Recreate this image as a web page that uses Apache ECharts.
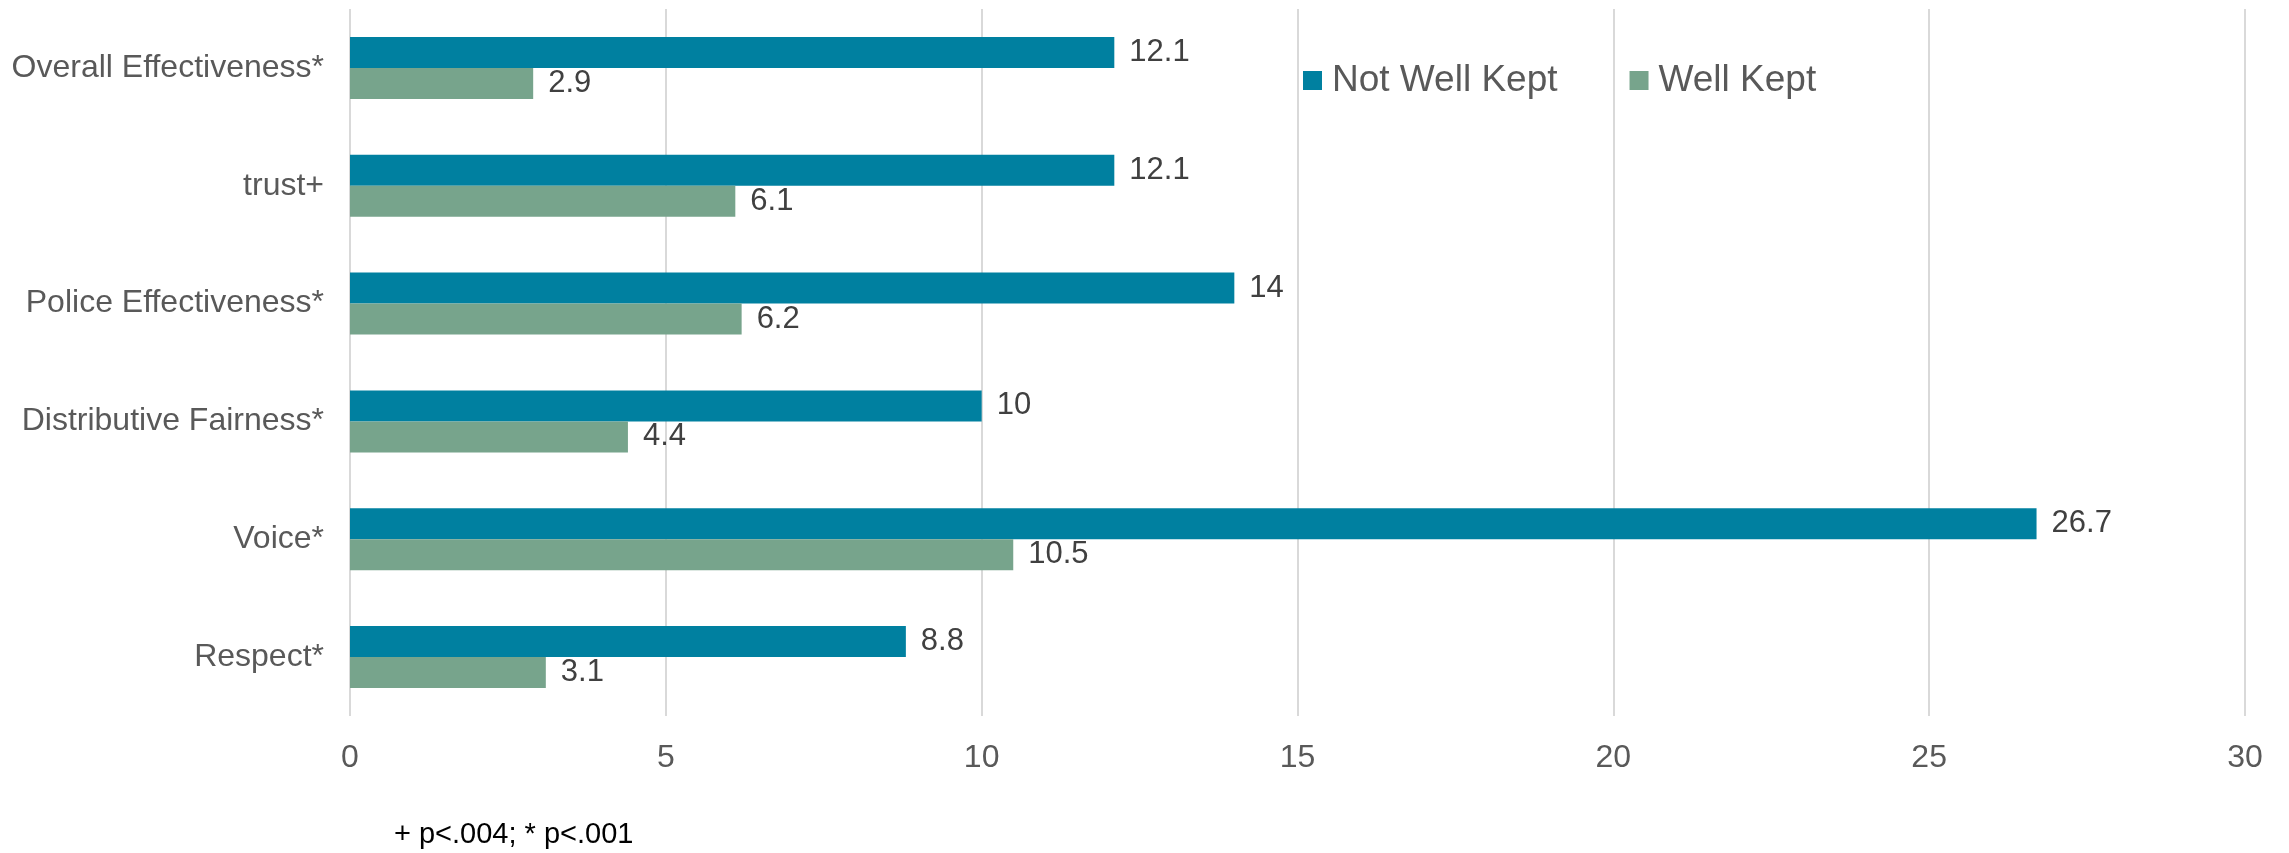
<!DOCTYPE html>
<html>
<head>
<meta charset="utf-8">
<title>Well Kept vs Not Well Kept</title>
<script src="https://cdn.jsdelivr.net/npm/echarts@6/dist/echarts.min.js"></script>
<style>
  html, body { margin: 0; padding: 0; background: #ffffff; }
  #chart { width: 2289px; height: 853px; }
</style>
</head>
<body>
<div id="chart"></div>
<script>
// Categories, listed top to bottom
const categories = [
  'Overall Effectiveness*',
  'trust+',
  'Police Effectiveness*',
  'Distributive Fairness*',
  'Voice*',
  'Respect*'
];

// Series values
const notWellKept = [12.1, 12.1, 14, 10, 26.7, 8.8];
const wellKept = [2.9, 6.1, 6.2, 4.4, 10.5, 3.1];

// Value axis ticks
const axisMin = 0;
const axisMax = 30;
const axisStep = 5;

const footnote = '+ p<.004; * p<.001';

const FONT = '"Liberation Sans", Arial, sans-serif';
const TEAL = '#0080A0';
const GREEN = '#77A48C';

const chart = echarts.init(document.getElementById('chart'), null, { renderer: 'canvas' });

const valueLabel = {
  show: true,
  position: 'right',
  distance: 15,
  color: '#404040',
  fontFamily: FONT,
  fontSize: 31
};

chart.setOption({
  animation: false,
  backgroundColor: '#ffffff',
  grid: { left: 350, right: 44, top: 9, bottom: 137, containLabel: false },
  legend: {
    data: ['Not Well Kept', 'Well Kept'],
    left: 1303,
    top: 62,
    padding: 0,
    icon: 'rect',
    itemWidth: 19,
    itemHeight: 19,
    itemGap: 72,
    textStyle: { color: '#595959', fontFamily: FONT, fontSize: 37, padding: [0, 0, 0, 5] }
  },
  xAxis: {
    type: 'value',
    min: axisMin,
    max: axisMax,
    interval: axisStep,
    axisLine: { show: false },
    axisTick: { show: false },
    axisLabel: { color: '#595959', fontFamily: FONT, fontSize: 32, margin: 26 },
    splitLine: { show: true, lineStyle: { color: '#d9d9d9', width: 2 } }
  },
  yAxis: {
    type: 'category',
    data: categories,
    inverse: true,
    axisLine: { show: false },
    axisTick: { show: false },
    axisLabel: { color: '#595959', fontFamily: FONT, fontSize: 32, margin: 26 }
  },
  series: [
    {
      name: 'Not Well Kept',
      type: 'bar',
      data: notWellKept,
      barWidth: 31,
      barGap: '0%',
      itemStyle: { color: TEAL },
      label: valueLabel
    },
    {
      name: 'Well Kept',
      type: 'bar',
      data: wellKept,
      barWidth: 31,
      barGap: '0%',
      itemStyle: { color: GREEN },
      label: valueLabel
    }
  ],
  graphic: [
    {
      type: 'text',
      left: 394,
      top: 820,
      style: {
        text: footnote,
        fill: '#000000',
        font: '29px ' + FONT
      }
    }
  ]
});
</script>
</body>
</html>
